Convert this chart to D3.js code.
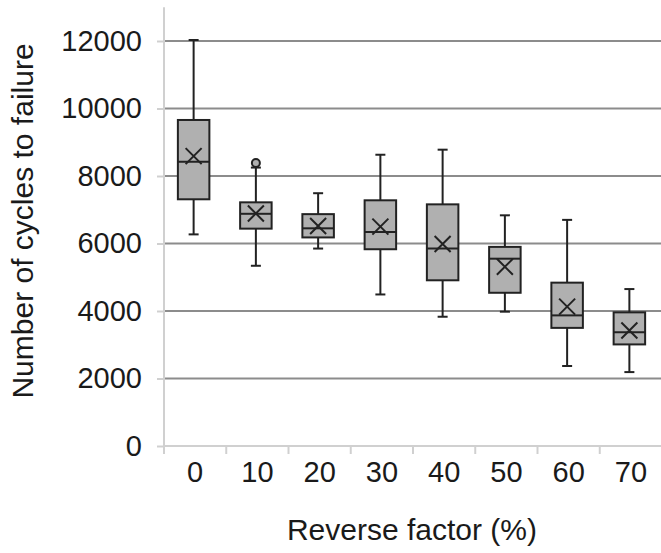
<!DOCTYPE html>
<html><head><meta charset="utf-8">
<script src="https://cdn.jsdelivr.net/npm/d3@7"></script>
<style>
html,body{margin:0;padding:0;background:#fff;}
svg{display:block;}
text{font-family:"Liberation Sans",Arial,sans-serif;fill:#1a1a1a;}
</style></head><body>
<svg id="chart" width="661" height="553"></svg>
<script>
const categories = ["0","10","20","30","40","50","60","70"];
const whiskerLow  = [6270, 5340, 5850, 4490, 3830, 3980, 2370, 2190];
const q1          = [7310, 6440, 6180, 5830, 4910, 4540, 3500, 3010];
const median      = [8420, 6880, 6450, 6340, 5850, 5550, 3870, 3370];
const q3          = [9660, 7220, 6870, 7280, 7160, 5900, 4840, 3960];
const whiskerHigh = [12030, 8250, 7490, 8630, 8780, 6835, 6700, 4650];
const mean        = [8590, 6890, 6520, 6500, 5985, 5310, 4130, 3420];
const outliers    = [{cat:"10", value:8385}];
const yTicks      = [0, 2000, 4000, 6000, 8000, 10000, 12000];
const yTitle = "Number of cycles to failure";
const xTitle = "Reverse factor (%)";

const svg = d3.select("#chart");
const x = d3.scaleBand().domain(categories).range([164, 662]);
const y = d3.scaleLinear().domain([0, 13000]).range([446, 7.25]);
const bw = x.bandwidth();
const boxW = 31.5;
const cx = c => x(c) + bw/2 - 1.5;

// gridlines
svg.append("g").selectAll("line").data(yTicks.filter(t=>t>0)).join("line")
  .attr("x1", 164).attr("x2", 661)
  .attr("y1", d=>y(d)).attr("y2", d=>y(d))
  .attr("stroke", "#8c8c8c").attr("stroke-width", 2);

// y axis
const yAxis = svg.append("g").attr("transform","translate(164,0)")
  .call(d3.axisLeft(y).tickValues(yTicks).tickSize(7).tickPadding(15).tickFormat(d3.format("d")));
yAxis.select(".domain").remove();
yAxis.append("line").attr("x1",0).attr("x2",0).attr("y1",y(13000)).attr("y2",y(0)+7)
  .attr("stroke","#d0d0d0").attr("stroke-width",2);
yAxis.selectAll(".tick line").attr("stroke","#d0d0d0").attr("stroke-width",2);
yAxis.selectAll(".tick text").attr("font-size",29).attr("fill","#1a1a1a")
  .style("font-family",'"Liberation Sans",Arial,sans-serif');

// x axis
const xAxis = svg.append("g").attr("transform",`translate(0,${y(0)})`)
  .call(d3.axisBottom(x).tickSize(0).tickPadding(0));
xAxis.select(".domain").remove();
xAxis.append("line").attr("x1",164).attr("x2",661).attr("y1",0).attr("y2",0)
  .attr("stroke","#d0d0d0").attr("stroke-width",2);
xAxis.selectAll(".tickmark").data(categories).join("line")
  .attr("x1", d=>x(d)).attr("x2", d=>x(d)).attr("y1",0).attr("y2",8)
  .attr("stroke","#d0d0d0").attr("stroke-width",2);
xAxis.selectAll(".tick text").attr("font-size",29).attr("fill","#1a1a1a")
  .attr("dy", 0).attr("y", 36)
  .style("font-family",'"Liberation Sans",Arial,sans-serif');

// boxes
const data = categories.map((c,i)=>({c, lo:whiskerLow[i], q1:q1[i], med:median[i], q3:q3[i], hi:whiskerHigh[i], mean:mean[i]}));
const g = svg.append("g").selectAll("g").data(data).join("g");
const stroke = "#222";
// whiskers
g.append("line").attr("x1",d=>cx(d.c)).attr("x2",d=>cx(d.c)).attr("y1",d=>y(d.hi)).attr("y2",d=>y(d.q3))
  .attr("stroke",stroke).attr("stroke-width",2);
g.append("line").attr("x1",d=>cx(d.c)).attr("x2",d=>cx(d.c)).attr("y1",d=>y(d.q1)).attr("y2",d=>y(d.lo))
  .attr("stroke",stroke).attr("stroke-width",2);
g.append("line").attr("x1",d=>cx(d.c)-5).attr("x2",d=>cx(d.c)+5).attr("y1",d=>y(d.hi)).attr("y2",d=>y(d.hi))
  .attr("stroke",stroke).attr("stroke-width",2);
g.append("line").attr("x1",d=>cx(d.c)-5).attr("x2",d=>cx(d.c)+5).attr("y1",d=>y(d.lo)).attr("y2",d=>y(d.lo))
  .attr("stroke",stroke).attr("stroke-width",2);
// box
g.append("rect").attr("x",d=>cx(d.c)-boxW/2).attr("width",boxW)
  .attr("y",d=>y(d.q3)).attr("height",d=>y(d.q1)-y(d.q3))
  .attr("fill","#b0b0b0").attr("stroke",stroke).attr("stroke-width",2);
// median
g.append("line").attr("x1",d=>cx(d.c)-boxW/2).attr("x2",d=>cx(d.c)+boxW/2).attr("y1",d=>y(d.med)).attr("y2",d=>y(d.med))
  .attr("stroke",stroke).attr("stroke-width",2);
// mean X
const s = 8;
g.append("path").attr("d",d=>{const X=cx(d.c),Y=y(d.mean);return `M${X-s},${Y-s}L${X+s},${Y+s}M${X-s},${Y+s}L${X+s},${Y-s}`;})
  .attr("stroke",stroke).attr("stroke-width",2).attr("fill","none");

// outliers
svg.append("g").selectAll("circle").data(outliers).join("circle")
  .attr("cx",d=>cx(d.cat)).attr("cy",d=>y(d.value)).attr("r",4)
  .attr("fill","#b0b0b0").attr("stroke",stroke).attr("stroke-width",2);

// titles
svg.append("text").attr("transform","translate(33,221) rotate(-90)").attr("text-anchor","middle")
  .attr("font-size",30).text(yTitle);
svg.append("text").attr("x",412).attr("y",540).attr("text-anchor","middle")
  .attr("font-size",30).text(xTitle);
</script>
</body></html>
